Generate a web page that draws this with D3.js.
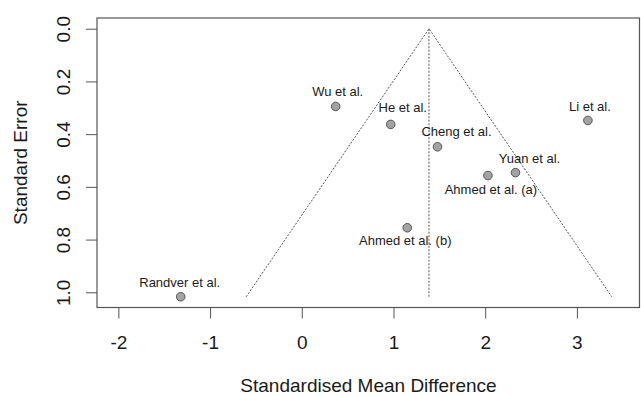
<!DOCTYPE html>
<html>
<head>
<meta charset="utf-8">
<script src="https://cdn.jsdelivr.net/npm/d3@7"></script>
<style>
  body { margin: 0; background: #fff; }
  text { font-family: "Liberation Sans", Arial, sans-serif; fill: #1a1a1a; }
</style>
</head>
<body>
<div id="funnel"></div>
<script>
// Funnel plot data
const studies = ["Wu et al.", "He et al.", "Cheng et al.", "Li et al.", "Yuan et al.",
                 "Ahmed et al. (a)", "Ahmed et al. (b)", "Randver et al."];
const smd = [0.37, 0.97, 1.48, 3.12, 2.33, 2.03, 1.15, -1.32];
const se = [0.295, 0.363, 0.448, 0.348, 0.546, 0.557, 0.755, 1.017];
const pooled = 1.387;
const xTicks = [-2, -1, 0, 1, 2, 3];
const yTicks = [0, 0.2, 0.4, 0.6, 0.8, 1.0];

// Label placement relative to each point: [dx, dy] in px
const labelOffset = [[2, -10], [12, -12], [19, -11], [2, -9], [14, -10], [3, 18], [-2, 17], [-1, -10]];

const width = 641, height = 396;
const margin = {top: 18, right: 1, bottom: 88.5, left: 97};

const svg = d3.select("#funnel")
    .append("svg")
    .attr("width", width)
    .attr("height", height);

svg.append("rect").attr("width", width).attr("height", height).attr("fill", "#fff");

// Scales (R-style 4% padding around the data range)
const seMax = d3.max(se);
const x = d3.scaleLinear()
    .domain([-2.233, 3.688])
    .range([margin.left, width - margin.right]);
const y = d3.scaleLinear()
    .domain([-0.04 * seMax, seMax * 1.04])
    .range([margin.top, height - margin.bottom]);

const axisColor = "#555";

// X axis
const gx = svg.append("g")
    .attr("transform", `translate(0,${height - margin.bottom})`)
    .call(d3.axisBottom(x).tickValues(xTicks).tickSize(11).tickFormat(d => String(d)));
gx.select(".domain").remove();
gx.selectAll(".tick line").attr("stroke", axisColor);
gx.selectAll(".tick text")
    .attr("y", 41).attr("dy", 0)
    .style("font-size", "19px")
    .style("font-family", "'Liberation Sans', Arial, sans-serif")
    .attr("fill", "#1a1a1a");

// Y axis (labels rotated like R's default)
const gy = svg.append("g")
    .attr("transform", `translate(${margin.left},0)`)
    .call(d3.axisLeft(y).tickValues(yTicks).tickSize(11).tickFormat(d3.format(".1f")));
gy.select(".domain").remove();
gy.selectAll(".tick line").attr("stroke", axisColor);
gy.selectAll(".tick text")
    .attr("transform", "rotate(-90)")
    .attr("x", 0).attr("y", -27).attr("dy", 0)
    .attr("text-anchor", "middle")
    .style("font-size", "19px")
    .style("font-family", "'Liberation Sans', Arial, sans-serif")
    .attr("fill", "#1a1a1a");

// Plot box
svg.append("rect")
    .attr("x", x.range()[0])
    .attr("y", y.range()[0])
    .attr("width", x.range()[1] - x.range()[0] - 0.5)
    .attr("height", y.range()[1] - y.range()[0])
    .attr("fill", "none")
    .attr("stroke", axisColor)
    .attr("stroke-width", 1.2);

// Funnel (pseudo 95% CI) and pooled estimate line
const funnel = [[pooled - 1.96 * seMax, seMax], [pooled, 0], [pooled + 1.96 * seMax, seMax]];
svg.append("path")
    .attr("d", d3.line().x(d => x(d[0])).y(d => y(d[1]))(funnel))
    .attr("fill", "none")
    .attr("stroke", "#444")
    .attr("stroke-width", 0.9)
    .attr("stroke-dasharray", "2,1.5");

svg.append("line")
    .attr("x1", x(pooled)).attr("x2", x(pooled))
    .attr("y1", y(0)).attr("y2", y(seMax))
    .attr("stroke", "#444")
    .attr("stroke-width", 0.9)
    .attr("stroke-dasharray", "2,1.5");

// Study points
svg.selectAll(".pt")
    .data(studies)
    .enter()
    .append("circle")
    .attr("class", "pt")
    .attr("cx", (d, i) => x(smd[i]))
    .attr("cy", (d, i) => y(se[i]))
    .attr("r", 4.3)
    .attr("fill", "#a3a3a3")
    .attr("stroke", "#555")
    .attr("stroke-width", 1);

// Study labels
svg.selectAll(".lab")
    .data(studies)
    .enter()
    .append("text")
    .attr("class", "lab")
    .attr("x", (d, i) => x(smd[i]) + labelOffset[i][0])
    .attr("y", (d, i) => y(se[i]) + labelOffset[i][1])
    .attr("text-anchor", "middle")
    .style("font-size", "13px")
    .text(d => d);

// Axis titles
svg.append("text")
    .attr("x", (x.range()[0] + x.range()[1]) / 2)
    .attr("y", 392)
    .attr("text-anchor", "middle")
    .style("font-size", "19px")
    .text("Standardised Mean Difference");

svg.append("text")
    .attr("transform", `translate(27,${(y.range()[0] + y.range()[1]) / 2}) rotate(-90)`)
    .attr("text-anchor", "middle")
    .style("font-size", "19px")
    .text("Standard Error");
</script>
</body>
</html>
